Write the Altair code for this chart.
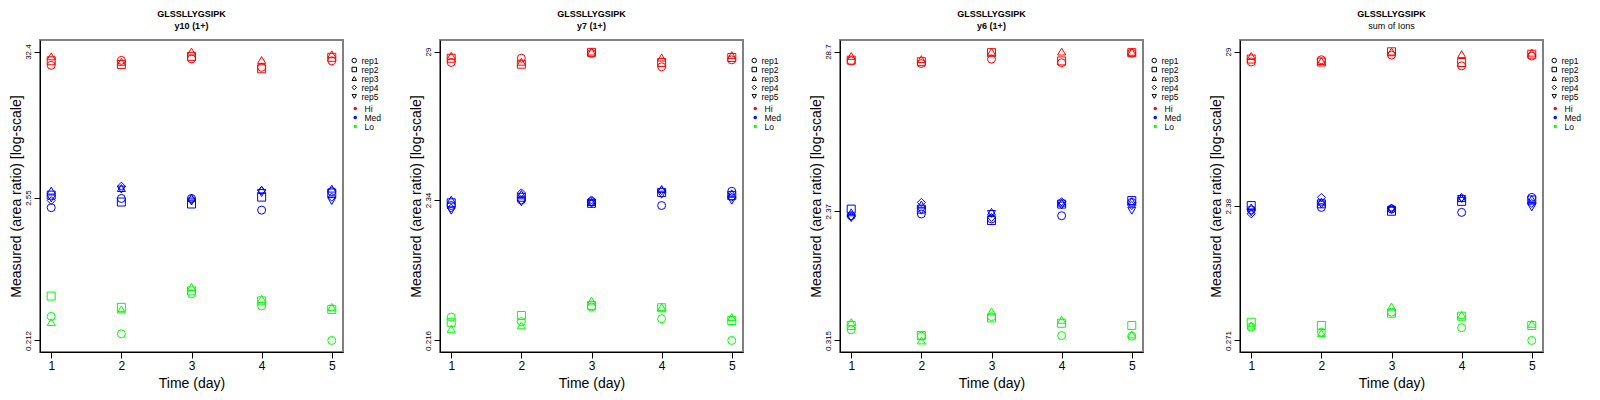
import altair as alt
import pandas as pd

FONT = "Liberation Sans"
PEPTIDE = "GLSSLLYGSIPK"

DAYS = [1, 2, 3, 4, 5]
REPS = ["rep1", "rep2", "rep3", "rep4", "rep5"]
LEVELS = ["Hi", "Med", "Lo"]
LEVEL_COLORS = ["#FF0000", "#0000FF", "#00FF00"]
REP_SHAPES = ["circle", "square", "triangle-up", "diamond", "triangle-down"]

# measured area ratios: one row per replicate (rep1..), one column per day 1..5
Y10_HI = [
    [25.5, 27.8, 28.5, 24.6, 27.6],
    [27.6, 25.9, 29.8, 24.0, 29.3],
    [29.8, 27.1, 32.4, 28.0, 30.9],
]
Y10_MED = [
    [2.14, 2.51, 2.51, 2.05, 2.83],
    [2.66, 2.36, 2.28, 2.57, 2.76],
    [2.88, 3.01, 2.55, 2.93, 2.98],
    [2.42, 3.11, 2.46, 2.88, 2.57],
    [2.51, 2.93, 2.38, 2.76, 2.40],
]
Y10_LO = [
    [0.322, 0.238, 0.478, 0.387, 0.212],
    [0.459, 0.377, 0.502, 0.422, 0.364],
    [0.292, 0.364, 0.538, 0.437, 0.380],
]
Y10_TICKS = [0.212, 2.55, 32.4]

Y7_HI = [
    [24.1, 25.9, 28.1, 22.4, 25.2],
    [25.9, 23.4, 28.6, 24.1, 26.2],
    [27.0, 24.4, 29.0, 26.2, 27.3],
]
Y7_MED = [
    [2.13, 2.34, 2.28, 2.13, 2.71],
    [2.23, 2.45, 2.21, 2.66, 2.52],
    [2.35, 2.59, 2.26, 2.82, 2.62],
    [2.04, 2.64, 2.34, 2.74, 2.45],
    [1.95, 2.25, 2.19, 2.56, 2.31],
]
Y7_LO = [
    [0.321, 0.297, 0.381, 0.312, 0.216],
    [0.294, 0.330, 0.391, 0.376, 0.303],
    [0.263, 0.279, 0.425, 0.380, 0.321],
]
Y7_TICKS = [0.216, 2.34, 29]

Y6_HI = [
    [24.8, 23.8, 25.5, 24.1, 28.0],
    [25.1, 24.5, 28.2, 24.8, 28.2],
    [26.8, 25.5, 28.6, 28.7, 28.6],
]
Y6_MED = [
    [2.21, 2.27, 2.10, 2.21, 2.72],
    [2.45, 2.45, 2.05, 2.65, 2.80],
    [2.33, 2.63, 2.35, 2.71, 2.77],
    [2.18, 2.72, 2.15, 2.75, 2.59],
    [2.13, 2.39, 2.27, 2.59, 2.39],
]
Y6_LO = [
    [0.372, 0.337, 0.457, 0.340, 0.337],
    [0.398, 0.340, 0.448, 0.412, 0.398],
    [0.419, 0.315, 0.495, 0.435, 0.346],
]
Y6_TICKS = [0.315, 2.37, 28.7]

SUM_HI = [
    [24.5, 25.4, 27.4, 23.0, 27.0],
    [25.7, 24.5, 28.9, 24.3, 27.8],
    [27.0, 24.9, 29.0, 27.8, 28.5],
]
SUM_MED = [
    [2.24, 2.33, 2.27, 2.15, 2.74],
    [2.40, 2.47, 2.19, 2.57, 2.63],
    [2.33, 2.56, 2.33, 2.71, 2.67],
    [2.10, 2.74, 2.30, 2.74, 2.49],
    [2.15, 2.44, 2.24, 2.67, 2.33],
]
SUM_LO = [
    [0.336, 0.310, 0.428, 0.333, 0.271],
    [0.364, 0.345, 0.421, 0.401, 0.345],
    [0.345, 0.305, 0.469, 0.410, 0.355],
]
SUM_TICKS = [0.271, 2.38, 29]

PANELS = [
    ("y10 (1+)", Y10_HI, Y10_MED, Y10_LO, Y10_TICKS, "bold"),
    ("y7 (1+)", Y7_HI, Y7_MED, Y7_LO, Y7_TICKS, "bold"),
    ("y6 (1+)", Y6_HI, Y6_MED, Y6_LO, Y6_TICKS, "bold"),
    ("sum of Ions", SUM_HI, SUM_MED, SUM_LO, SUM_TICKS, "normal"),
]

W, H = 303, 312


def to_frame(hi, med, lo):
    rows = []
    for level, table in zip(LEVELS, (hi, med, lo)):
        for rep, vals in zip(REPS, table):
            for day, v in zip(DAYS, vals):
                rows.append({"level": level, "rep": rep, "day": day, "ratio": v})
    return pd.DataFrame(rows)


def panel(label, hi, med, lo, ticks, sub_weight):
    df = to_frame(hi, med, lo)
    lo_t, hi_t = min(ticks), max(ticks)
    pad = (hi_t / lo_t) ** 0.04  # R-style 4% axis extension
    return (
        alt.Chart(df)
        .mark_point(filled=False, size=64, strokeWidth=1, opacity=1)
        .encode(
            x=alt.X("day:Q", title="Time (day)",
                    scale=alt.Scale(domain=[0.84, 5.16], nice=False, zero=False),
                    axis=alt.Axis(values=DAYS, format="d")),
            y=alt.Y("ratio:Q", title="Measured (area ratio) [log-scale]",
                    scale=alt.Scale(type="log", domain=[lo_t / pad, hi_t * pad], nice=False),
                    axis=alt.Axis(values=ticks, format=".3~r", labelAngle=270,
                                  labelAlign="center", labelBaseline="bottom",
                                  labelFontSize=8)),
            color=alt.Color("level:N",
                            scale=alt.Scale(domain=LEVELS, range=LEVEL_COLORS),
                            legend=alt.Legend(title=None, orient="none", legendX=W + 8,
                                              legendY=64.25, symbolType="circle",
                                              symbolSize=4, symbolStrokeWidth=1.5,
                                              labelFontSize=8.5, rowPadding=0,
                                              labelOffset=5, padding=0)),
            shape=alt.Shape("rep:N",
                            scale=alt.Scale(domain=REPS, range=REP_SHAPES),
                            legend=alt.Legend(title=None, orient="none", legendX=W + 7,
                                              legendY=16.25, symbolStrokeColor="black",
                                              symbolSize=20, symbolStrokeWidth=1,
                                              labelFontSize=8.5, rowPadding=0,
                                              labelOffset=3, padding=0)),
        )
        .properties(
            width=W, height=H,
            title=alt.TitleParams(text=PEPTIDE, subtitle=label, fontSize=9,
                                  fontWeight="bold", subtitleFontSize=9,
                                  subtitleFontWeight=sub_weight, subtitleColor="black",
                                  color="black", font=FONT, subtitleFont=FONT,
                                  anchor="middle", frame="group", offset=9,
                                  subtitlePadding=3),
        )
    )


chart = (
    alt.hconcat(*[panel(*p) for p in PANELS], spacing=400 - W, bounds="flush")
    .resolve_scale(y="independent", color="independent", shape="independent")
    .properties(padding={"left": 0, "top": 1, "right": 0, "bottom": 0})
    .configure_view(stroke="#808080", strokeWidth=2)
    .configure_axis(domainColor="black", domainWidth=1, tickColor="black", tickSize=6,
                    labelColor="black", titleColor="black", titleFontWeight="normal",
                    titleFontSize=14, grid=False, labelFont=FONT, titleFont=FONT)
    .configure_axisX(labelFontSize=12, labelPadding=2, titlePadding=5)
    .configure_axisY(labelPadding=2, titlePadding=1)
    .configure_legend(labelFont=FONT, labelColor="black")
)

chart.save("out.html", embed_options={"renderer": "svg", "actions": False})
